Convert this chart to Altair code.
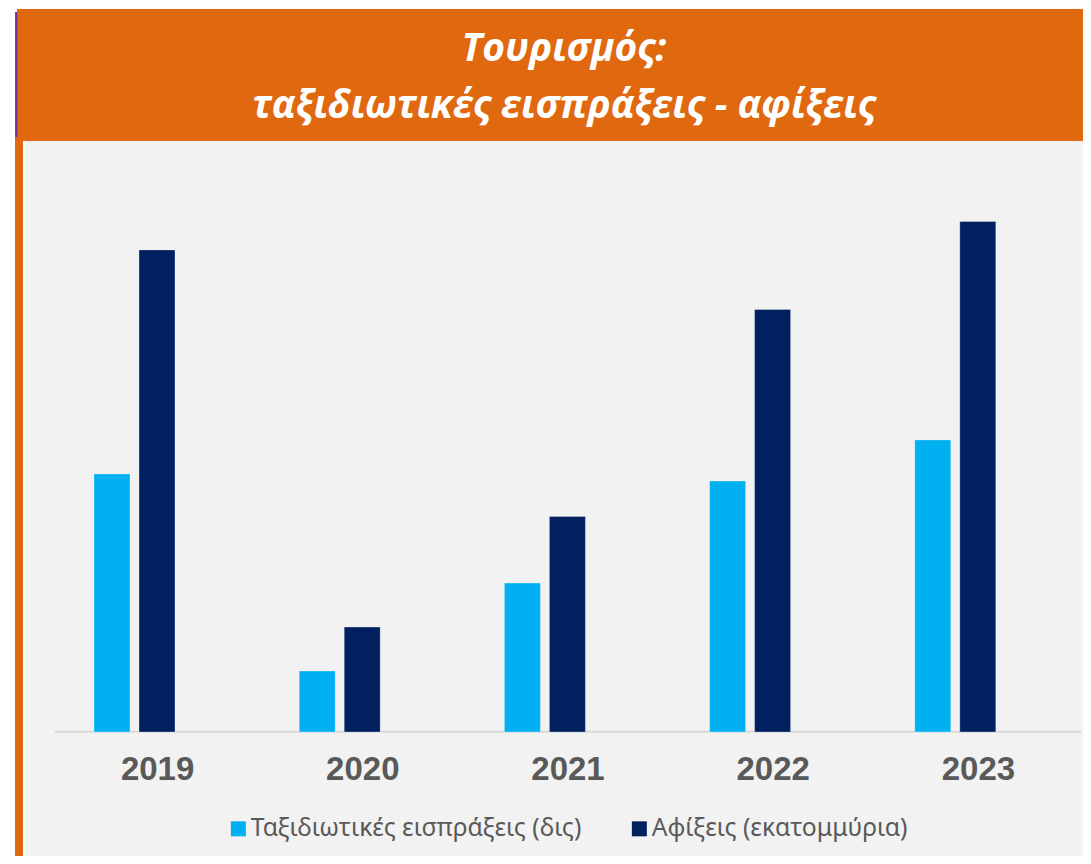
import altair as alt
import pandas as pd

YEARS = ["2019", "2020", "2021", "2022", "2023"]
SERIES = ["Ταξιδιωτικές εισπράξεις (δις)", "Αφίξεις (εκατομμύρια)"]
RECEIPTS = [18.2, 4.3, 10.5, 17.7, 20.6]
ARRIVALS = [34.0, 7.4, 15.2, 29.8, 36.0]
COLORS = ["#00B0F0", "#002060"]
TITLE_LINES = ["Τουρισμός:", "ταξιδιωτικές εισπράξεις - αφίξεις"]

rows = []
for i, yr in enumerate(YEARS):
    rows.append({"year": yr, "series": SERIES[0], "value": RECEIPTS[i]})
    rows.append({"year": yr, "series": SERIES[1], "value": ARRIVALS[i]})
df = pd.DataFrame(rows)

W, H = 1075, 848
ORANGE = "#E0680F"
GRAY_TXT = "#595959"


def deco():
    return alt.Chart(pd.DataFrame({"d": [0]}))


bg_gray = deco().mark_rect(color="#F2F2F2").encode(
    x=alt.value(17), x2=alt.value(W), y=alt.value(133), y2=alt.value(H))
stripe = deco().mark_rect(color=ORANGE).encode(
    x=alt.value(7), x2=alt.value(15), y=alt.value(4), y2=alt.value(H))
banner = deco().mark_rect(color=ORANGE).encode(
    x=alt.value(9), x2=alt.value(W), y=alt.value(1), y2=alt.value(133))
purple = deco().mark_rule(color="#7030A0", strokeWidth=2).encode(
    x=alt.value(8.3), y=alt.value(4), y2=alt.value(129))
baseline = deco().mark_rule(color="#D9D9D9", strokeWidth=2).encode(
    x=alt.value(47), x2=alt.value(1073), y=alt.value(723.7))

title1 = alt.Chart(pd.DataFrame({"t": [TITLE_LINES[0]]})).mark_text(
    font="Open Sans", fontSize=39, fontWeight="bold", fontStyle="italic",
    color="white", align="center", baseline="alphabetic").encode(
    text="t:N", x=alt.value(556), y=alt.value(53))
title2 = alt.Chart(pd.DataFrame({"t": [TITLE_LINES[1]]})).mark_text(
    font="Open Sans", fontSize=39, fontWeight="bold", fontStyle="italic",
    color="white", align="center", baseline="alphabetic").encode(
    text="t:N", x=alt.value(556), y=alt.value(110))

xscale = alt.Scale(domain=YEARS, range=[47, 1073], paddingInner=0, paddingOuter=0)
yscale = alt.Scale(domain=[0, 40], range=[724, 156.8])

bars = alt.Chart(df).mark_bar(stroke="white", strokeOpacity=0.3, strokeWidth=1).encode(
    x=alt.X("year:N", scale=xscale, axis=None),
    xOffset=alt.XOffset("series:N", sort=SERIES,
                        scale=alt.Scale(domain=SERIES, range=[39, 120],
                                        paddingInner=0.2, paddingOuter=0)),
    y=alt.Y("value:Q", scale=yscale, axis=None),
    color=alt.Color("series:N", sort=SERIES,
                    scale=alt.Scale(domain=SERIES, range=COLORS),
                    legend=alt.Legend(orient="none", legendX=218, legendY=808,
                                      direction="horizontal", title=None,
                                      symbolType="square", symbolSize=225,
                                      symbolStrokeWidth=0, labelFontSize=24.7,
                                      labelColor=GRAY_TXT, labelFont="Noto Sans",
                                      labelOffset=0, columnPadding=45,
                                      padding=0, labelLimit=500)),
)

labels = alt.Chart(pd.DataFrame({"year": YEARS})).mark_text(
    font="Liberation Sans", fontSize=33, fontWeight="bold", color=GRAY_TXT,
    baseline="middle", align="center").encode(
    x=alt.X("year:N", scale=xscale, axis=None),
    text="year:N",
    y=alt.value(762),
)

chart = alt.layer(bg_gray, stripe, banner, purple, baseline, bars, labels,
                  title1, title2).properties(
    width=W, height=H, padding=0, background="white",
    autosize=alt.AutoSizeParams(type="none"),
).configure_view(stroke=None)

chart.save("out.html", embed_options={"renderer": "svg", "actions": False})
